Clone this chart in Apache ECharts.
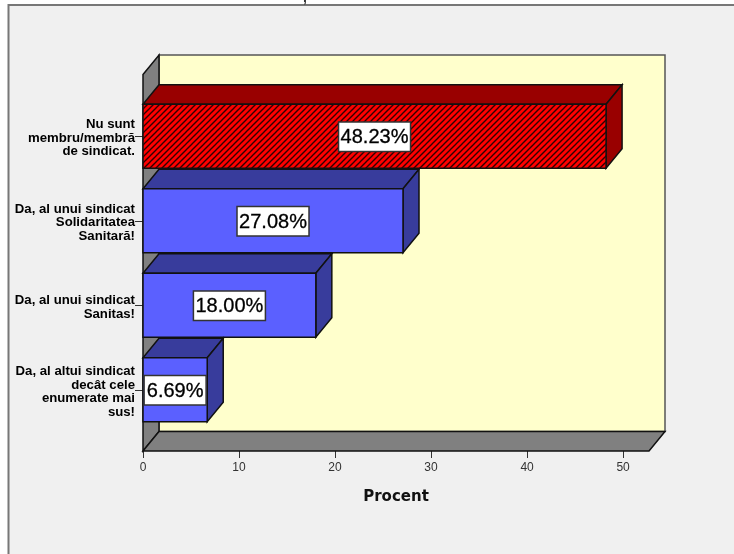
<!DOCTYPE html>
<html><head><meta charset="utf-8">
<style>html,body{margin:0;padding:0;background:#fff}#c{width:734px;height:554px}</style>
<script src="https://cdn.jsdelivr.net/npm/echarts@6/dist/echarts.min.js"></script>
</head><body><div id="c"></div>
<script>
const categories = ["Nu sunt\nmembru/membră\nde sindicat.","Da, al unui sindicat\nSolidaritatea\nSanitară!","Da, al unui sindicat\nSanitas!","Da, al altui sindicat\ndecât cele\nenumerate mai\nsus!"];
const values = [48.23,27.08,18.00,6.69];
const valueLabels = ["48.23%","27.08%","18.00%","6.69%"];
const axisName = "Procent";
const hatched = [true,false,false,false];

const DX=16, DY=19.5, EDGE='#111';
function hatch(){
  const c=document.createElement('canvas');c.width=c.height=6;
  const g=c.getContext('2d');g.fillStyle='#ff0000';g.fillRect(0,0,6,6);
  g.strokeStyle='#300000';g.lineWidth=1.35;
  [[-1,1,1,-1],[-1,7,7,-1],[5,7,7,5]].forEach(l=>{g.beginPath();g.moveTo(l[0],l[1]);g.lineTo(l[2],l[3]);g.stroke();});
  return c;
}
const hatchImg=hatch();
function poly(points,fill,z2,stroke,lw){
  return {type:'polygon',z2:z2||0,shape:{points},style:{fill,stroke:stroke||EDGE,lineWidth:lw||1.5}};
}
function renderFrame(params){
  const s=params.coordSys;
  const L=s.x,R=s.x+s.width,T=s.y-DY,B=s.y+s.height+DY-0.5;
  return {type:'group',children:[
    {type:'rect',shape:{x:L+DX,y:T-DY,width:s.width,height:B-T},style:{fill:'#ffffcc',stroke:'#555',lineWidth:1.5}},
    poly([[L,T],[L+DX,T-DY],[L+DX,B-DY],[L,B]],'#808080'),
    poly([[L,B],[L+DX,B-DY],[R+DX,B-DY],[R,B]],'#808080')
  ]};
}
function renderBar(params,api){
  const i=params.dataIndex, v=api.value(0), p=api.coord([v,i]), o=api.coord([0,i]);
  const h=api.size([0,1])[1]*0.757, t=p[1]-h/2, b=p[1]+h/2, x0=o[0], x1=p[0];
  const isH=hatched[i];
  const face=isH?{image:hatchImg,repeat:'repeat'}:'#5b60ff', dark=isH?'#990000':'#383c9c';
  const boxW=valueLabels[i].length>5?72:62, boxH=29.5, cx=(x0+x1)/2;
  return {type:'group',children:[
    poly([[x0,t],[x0+DX,t-DY],[x1+DX,t-DY],[x1,t]],dark),
    poly([[x1,t],[x1+DX,t-DY],[x1+DX,b-DY],[x1,b]],dark),
    {type:'rect',shape:{x:x0,y:t,width:x1-x0,height:b-t},style:{fill:face,stroke:EDGE,lineWidth:1.5}},
    {type:'rect',shape:{x:cx-boxW/2,y:p[1]-boxH/2+0.5,width:boxW,height:boxH},style:{fill:'#fff',stroke:'#333',lineWidth:1.5}},
    {type:'text',style:{x:cx,y:p[1]+1.5,text:valueLabels[i],align:'center',verticalAlign:'middle',fill:'#000',stroke:'#000',lineWidth:0.3,font:'20px "Liberation Sans"'}}
  ]};
}
const chart=echarts.init(document.getElementById('c'),null,{renderer:'canvas'});
chart.setOption({
  animation:false,
  backgroundColor:'#fff',
  graphic:[
    {type:'rect',silent:true,z:-1,shape:{x:8.5,y:5,width:740,height:560},style:{fill:'#f0f0f0',stroke:'#777',lineWidth:2}},
    {type:'text',silent:true,z:-1,style:{x:303,y:-9,text:',',fill:'#333',font:'bold 14px "Liberation Sans"'}}
  ],
  grid:{left:143,top:94,width:506,height:338},
  xAxis:{type:'value',min:0,max:52.7,interval:10,offset:19,position:'bottom',
    axisLine:{show:false},splitLine:{show:false},
    axisTick:{show:true,length:7,lineStyle:{color:'#333',width:1}},
    axisLabel:{color:'#333',fontFamily:'Liberation Sans',fontSize:12,margin:11,showMaxLabel:false},
    name:axisName,nameLocation:'middle',nameGap:39,
    nameTextStyle:{fontFamily:'DejaVu Sans',fontWeight:'bold',fontSize:15,color:'#111'}},
  yAxis:{type:'category',inverse:true,data:categories,
    axisLine:{show:false},
    axisTick:{show:true,alignWithLabel:true,length:8,lineStyle:{color:'#333',width:1}},
    axisLabel:{interval:0,margin:8,align:'right',
      formatter:v=>'{s| }\n'+v.split('\n').map(l=>'{a|'+l+'}').join('\n'),
      rich:{
        s:{fontSize:1,lineHeight:4},
        a:{color:'#000',fontFamily:'Liberation Sans',fontWeight:'bold',fontSize:13.2,lineHeight:13.6}
      }}},
  series:[
    {type:'custom',coordinateSystem:'cartesian2d',z:1,silent:true,clip:false,data:[[0,0]],encode:{x:0,y:1},renderItem:renderFrame},
    {type:'custom',coordinateSystem:'cartesian2d',z:3,silent:true,clip:false,data:values.map(v=>[v]),encode:{x:0},renderItem:renderBar}
  ]
});
</script></body></html>
